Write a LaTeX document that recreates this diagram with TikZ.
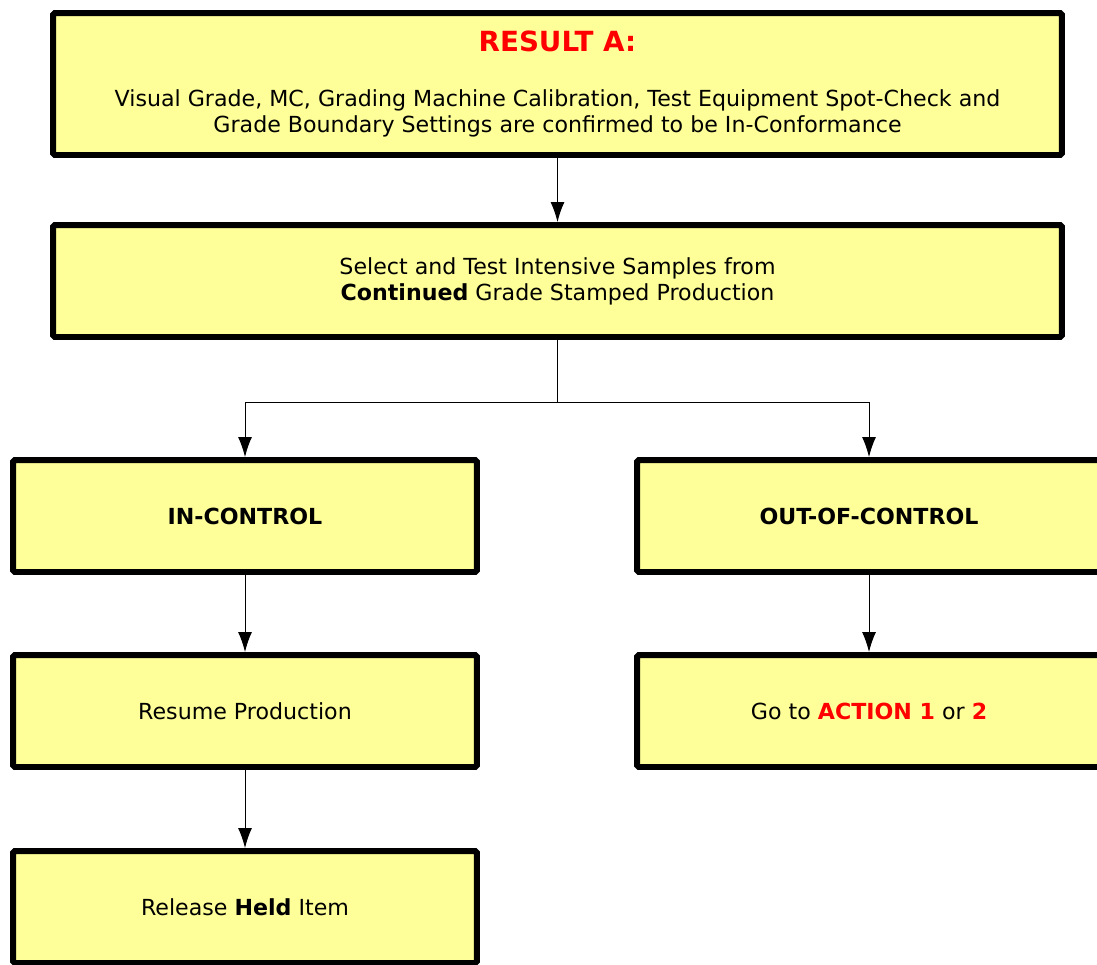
\documentclass[tikz,border=0pt]{standalone}
\usepackage{fontspec}
\setmainfont{DejaVu Sans}
\usetikzlibrary{positioning, arrows.meta}
\definecolor{boxfill}{HTML}{FFFF99}

\begin{document}
\begin{tikzpicture}[x=0.02cm,y=-0.02cm,
		box/.style={draw,line width=3.4pt,fill=boxfill,rounded corners=1pt,inner sep=0pt,
			minimum width=9.28cm,minimum height=2.24cm,align=center,
			font=\fontsize{12.6}{14.7}\selectfont},
		widebox/.style={box,minimum width=20.18cm},
		link/.style={line width=0.55pt,-{Latex[length=4mm,width=2.8mm]}}]
		\useasboundingbox (0,0) rectangle (1097,964);

		\node[widebox,minimum height=2.84cm] (resA) at (557.5,84)
			{\textcolor{red}{\fontsize{15.8}{18}\selectfont\bfseries RESULT A:}\\[16.5pt]
			Visual Grade, MC, Grading Machine Calibration, Test Equipment Spot-Check and\\
			Grade Boundary Settings are confirmed to be In-Conformance};
		\node[widebox] (select) at (557.5,281)
			{Select and Test Intensive Samples from\\ \textbf{Continued} Grade Stamped Production};

		\node[box] (inctrl) at (245,516) {\textbf{IN-CONTROL}};
		\node[box] (outctrl) at (869,516) {\textbf{OUT-OF-CONTROL}};
		\node[box] (resume) at (245,711) {Resume Production};
		\node[box] (goto) at (869,711)
			{Go to \textcolor{red}{\textbf{ACTION 1}} or \textcolor{red}{\textbf{2}}};
		\node[box] (release) at (245,907) {Release \textbf{Held} Item};

		\draw[link] (resA) -- (select);
		\draw[line width=0.55pt] (select.south) -- ++(0,62) coordinate (split);
		\draw[link] (split) -| (inctrl);
		\draw[link] (split) -| (outctrl);
		\draw[link] (inctrl) -- (resume);
		\draw[link] (resume) -- (release);
		\draw[link] (outctrl) -- (goto);
	\end{tikzpicture}
\end{document}
